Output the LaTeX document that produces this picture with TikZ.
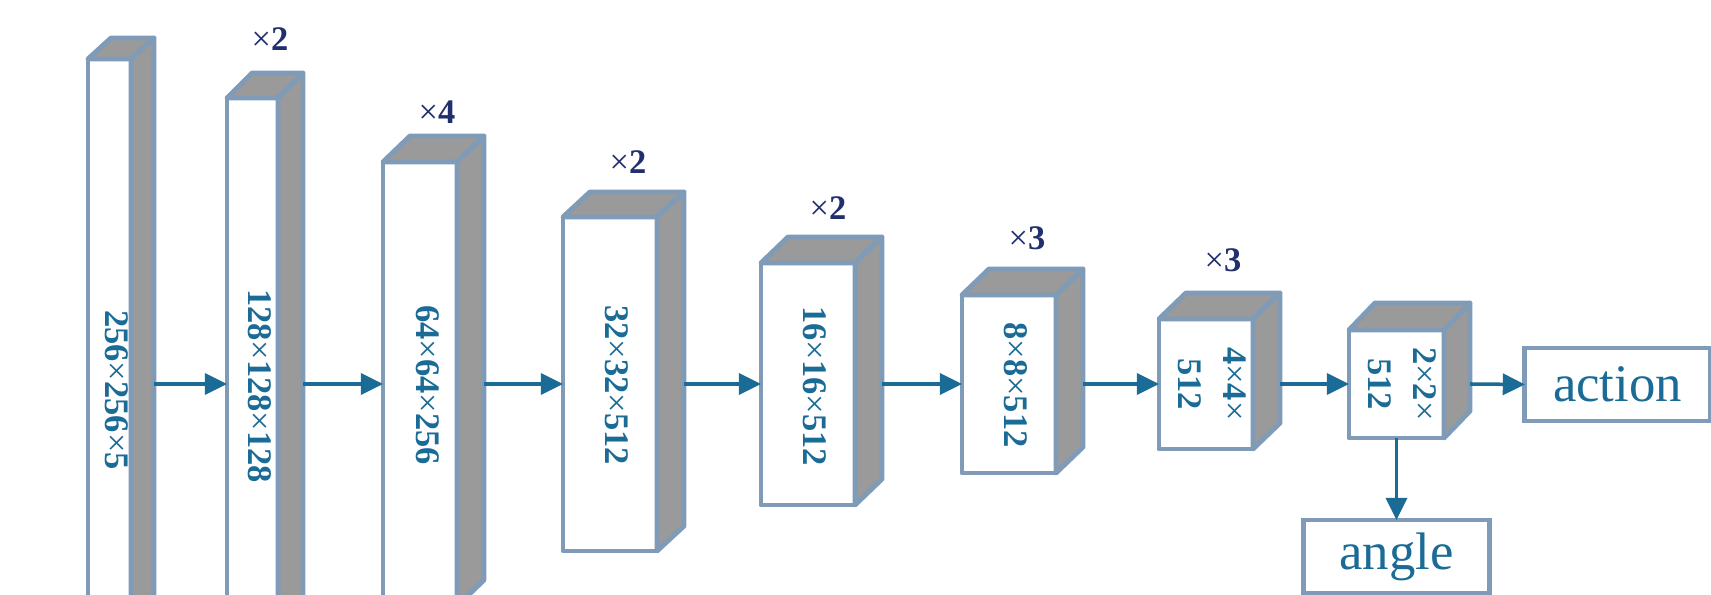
\documentclass[tikz,border=0pt]{standalone}
\usepackage{fontspec}
\setmainfont{Liberation Serif}
\usetikzlibrary{arrows.meta,calc}
\definecolor{edgeblue}{HTML}{7F9BB8}
\definecolor{sidegray}{HTML}{999A99}
\definecolor{txtblue}{HTML}{1A6B96}
\definecolor{navy}{HTML}{222F6E}
\newcommand\tms{{\mdseries ×}}
% name, cx, cy, w, h, dx, dy
\newcommand\blk[7]{%
  \node[face,minimum width=#4*0.01cm,minimum height=#5*0.01cm] (#1) at (#2,#3) {};
  \draw[shade] (#1.north west) -- ++(#6,#7) -- ++(#4,0) -- (#1.north east) -- cycle;
  \draw[shade] (#1.north east) -- ++(#6,#7) -- ++(0,#5) -- (#1.south east) -- cycle;
  \coordinate (#1s) at ($(#1.east)+(#6,0)$);
}
\begin{document}
\begin{tikzpicture}[x=0.01cm,y=-0.01cm,
  face/.style={draw=edgeblue,line width=1.4pt,fill=white,inner sep=0pt,outer sep=0pt,line join=round},
  shade/.style={draw=edgeblue,line width=1.4pt,fill=sidegray,line join=round},
  dimlabel/.style={text=txtblue,font=\fontsize{9.8}{12.8}\selectfont\bfseries,rotate=-90,align=center,inner sep=0pt},
  reps/.style={text=navy,font=\fontsize{9.8}{12}\selectfont\bfseries,inner sep=0pt},
  outbox/.style={draw=edgeblue,line width=1.4pt,fill=white,text=txtblue,font=\fontsize{15}{18}\selectfont,inner sep=0pt,outer sep=0pt,minimum height=0.73cm},
  arr/.style={draw=txtblue,line width=1pt,-{Triangle[length=6.3pt,width=6pt]}}
]
\useasboundingbox (0,0) rectangle (1711,595);
\clip (0,0) rectangle (1711,595);

\blk{b1}{109.5}{384}{43}{650}{23}{-21}
\blk{b2}{252.5}{384}{51}{572}{25}{-25}
\blk{b3}{420}{384}{74}{444}{27}{-26}
\blk{b4}{610}{384}{94}{334}{27}{-25}
\blk{b5}{808}{384}{94}{242}{27}{-26}
\blk{b6}{1009}{384}{94}{178}{27}{-26}
\blk{b7}{1206}{384}{94}{130}{27}{-26}
\blk{b8}{1396.5}{384}{95}{108}{26}{-27}

\node[dimlabel] (t1) at (117,390) {256\tms256\tms5};
\node[dimlabel] (t2) at (260,386) {128\tms128\tms128};
\node[dimlabel] (t3) at (428,385) {64\tms64\tms256};
\node[dimlabel] (t4) at (617,385) {32\tms32\tms512};
\node[dimlabel] (t5) at (815,386) {16\tms16\tms512};
\node[dimlabel] (t6) at (1016,385) {8\tms8\tms512};
\node[dimlabel] (t7) at (1212,384) {4\tms4\tms\\512};
\node[dimlabel] (t8) at (1402,384) {2\tms2\tms\\512};

\node[reps] (m2) at (270,39) {\tms2};
\node[reps] (m3) at (437,112) {\tms4};
\node[reps] (m4) at (628,162) {\tms2};
\node[reps] (m5) at (828,208) {\tms2};
\node[reps] (m6) at (1027,238) {\tms3};
\node[reps] (m7) at (1223,260) {\tms3};

\node[outbox,minimum width=1.85cm] (action) at (1617.5,384.5) {action};
\node[outbox,minimum width=1.86cm] (angle) at (1396.5,556.5) {angle};

\draw[arr] (b1s) -- (b2.west);
\draw[arr] (b2s) -- (b3.west);
\draw[arr] (b3s) -- (b4.west);
\draw[arr] (b4s) -- (b5.west);
\draw[arr] (b5s) -- (b6.west);
\draw[arr] (b6s) -- (b7.west);
\draw[arr] (b7s) -- (b8.west);
\draw[arr] (b8s) -- (action.west);
\draw[arr] (b8.south) -- (angle.north);
\end{tikzpicture}
\end{document}
